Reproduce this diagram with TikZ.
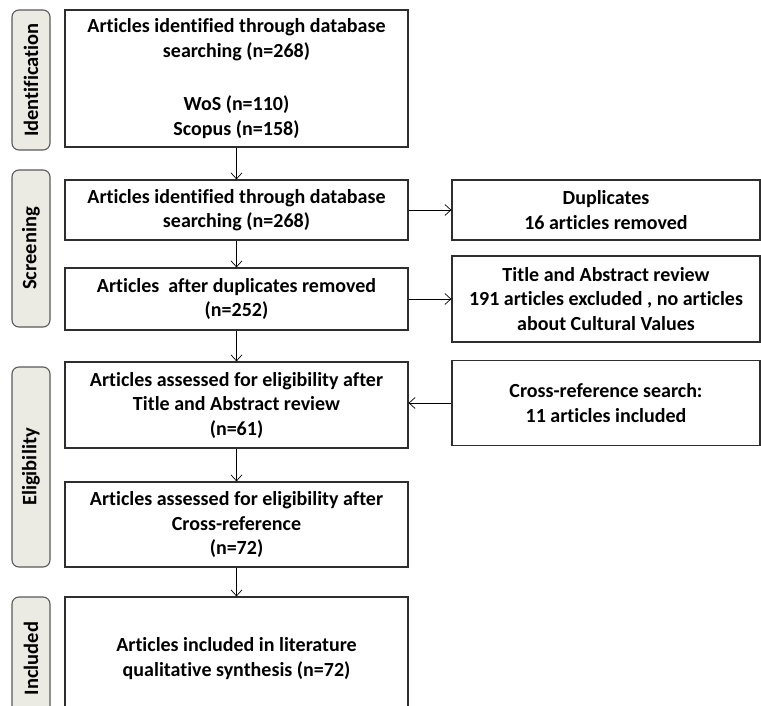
\documentclass[tikz,border=0pt]{standalone}
\usepackage{fontspec}
\setmainfont{Carlito}[Ligatures={NoCommon}]
\usetikzlibrary{arrows.meta}
\definecolor{phasefill}{HTML}{ECEBE3}
\definecolor{phaseline}{HTML}{5A5A5A}
\definecolor{boxline}{HTML}{2E2E2E}
\begin{document}
\begin{tikzpicture}[x=1pt,y=-1pt,
  stage/.style={draw=boxline, line width=1.2pt, fill=white, minimum width=343pt,
    align=center, font=\fontsize{20}{24.5}\selectfont\bfseries, inner sep=0pt},
  sidebox/.style={stage, minimum width=308pt},
  phase/.style={draw=phaseline, line width=1.1pt, fill=phasefill, rounded corners=7pt,
    minimum height=38pt, inner sep=0pt, rotate=90,
    font=\fontsize{20.5}{22}\selectfont\bfseries},
  arr/.style={draw=black, line width=0.7pt, -{Straight Barb[length=6pt,width=11pt]}}]
\useasboundingbox (0,0) rectangle (761,706);
\clip (0,0) rectangle (761,706);
\fill[white] (0,0) rectangle (761,706);

% phase labels on the left
\node[phase, minimum width=140pt] (pid) at (31,80) {Identification};
\node[phase, minimum width=157pt] (psc) at (31,248.5) {Screening};
\node[phase, minimum width=200pt] (pel) at (31,467) {Eligibility};
\node[phase, minimum width=123pt] (pin) at (31,658.5) {Included};

% main column
\node[stage, minimum height=137pt] (b1) at (236.5,78.5)
  {Articles identified through database\\ searching (n=268)\\[29pt] WoS (n=110)\\ Scopus (n=158)};
\node[stage, minimum height=60pt] (b2) at (236.5,210)
  {Articles identified through database\\ searching (n=268)};
\node[stage, minimum height=62pt] (b3) at (236.5,299)
  {Articles \ after duplicates removed\\ (n=252)};
\node[stage, minimum height=86pt] (b4) at (236.5,405)
  {Articles assessed for eligibility after\\ Title and Abstract review\\ (n=61)};
\node[stage, minimum height=85pt] (b5) at (236.5,524.5)
  {Articles assessed for eligibility after\\ Cross-reference\\ (n=72)};
\node[stage, minimum height=123pt] (b6) at (236.5,658.5)
  {Articles included in literature\\ qualitative synthesis (n=72)};

% side column
\node[sidebox, minimum height=60pt] (dup) at (606,210)
  {Duplicates\\ 16 articles removed};
\node[sidebox, minimum height=86pt] (tar) at (606,299)
  {Title and Abstract review\\ 191 articles excluded , no articles\\ about Cultural Values};
\node[sidebox, minimum height=85pt] (crs) at (606,403)
  {Cross-reference search:\\ 11 articles included};

% connectors
\draw[arr] (b1) -- (b2);
\draw[arr] (b2) -- (b3);
\draw[arr] (b3) -- (b4);
\draw[arr] (b4) -- (b5);
\draw[arr] (b5) -- (b6);
\draw[arr] (b2) -- (dup);
\draw[arr] (b3) -- (tar);
\draw[arr] (crs.west) -- (crs.west -| b4.east);
\end{tikzpicture}
\end{document}
